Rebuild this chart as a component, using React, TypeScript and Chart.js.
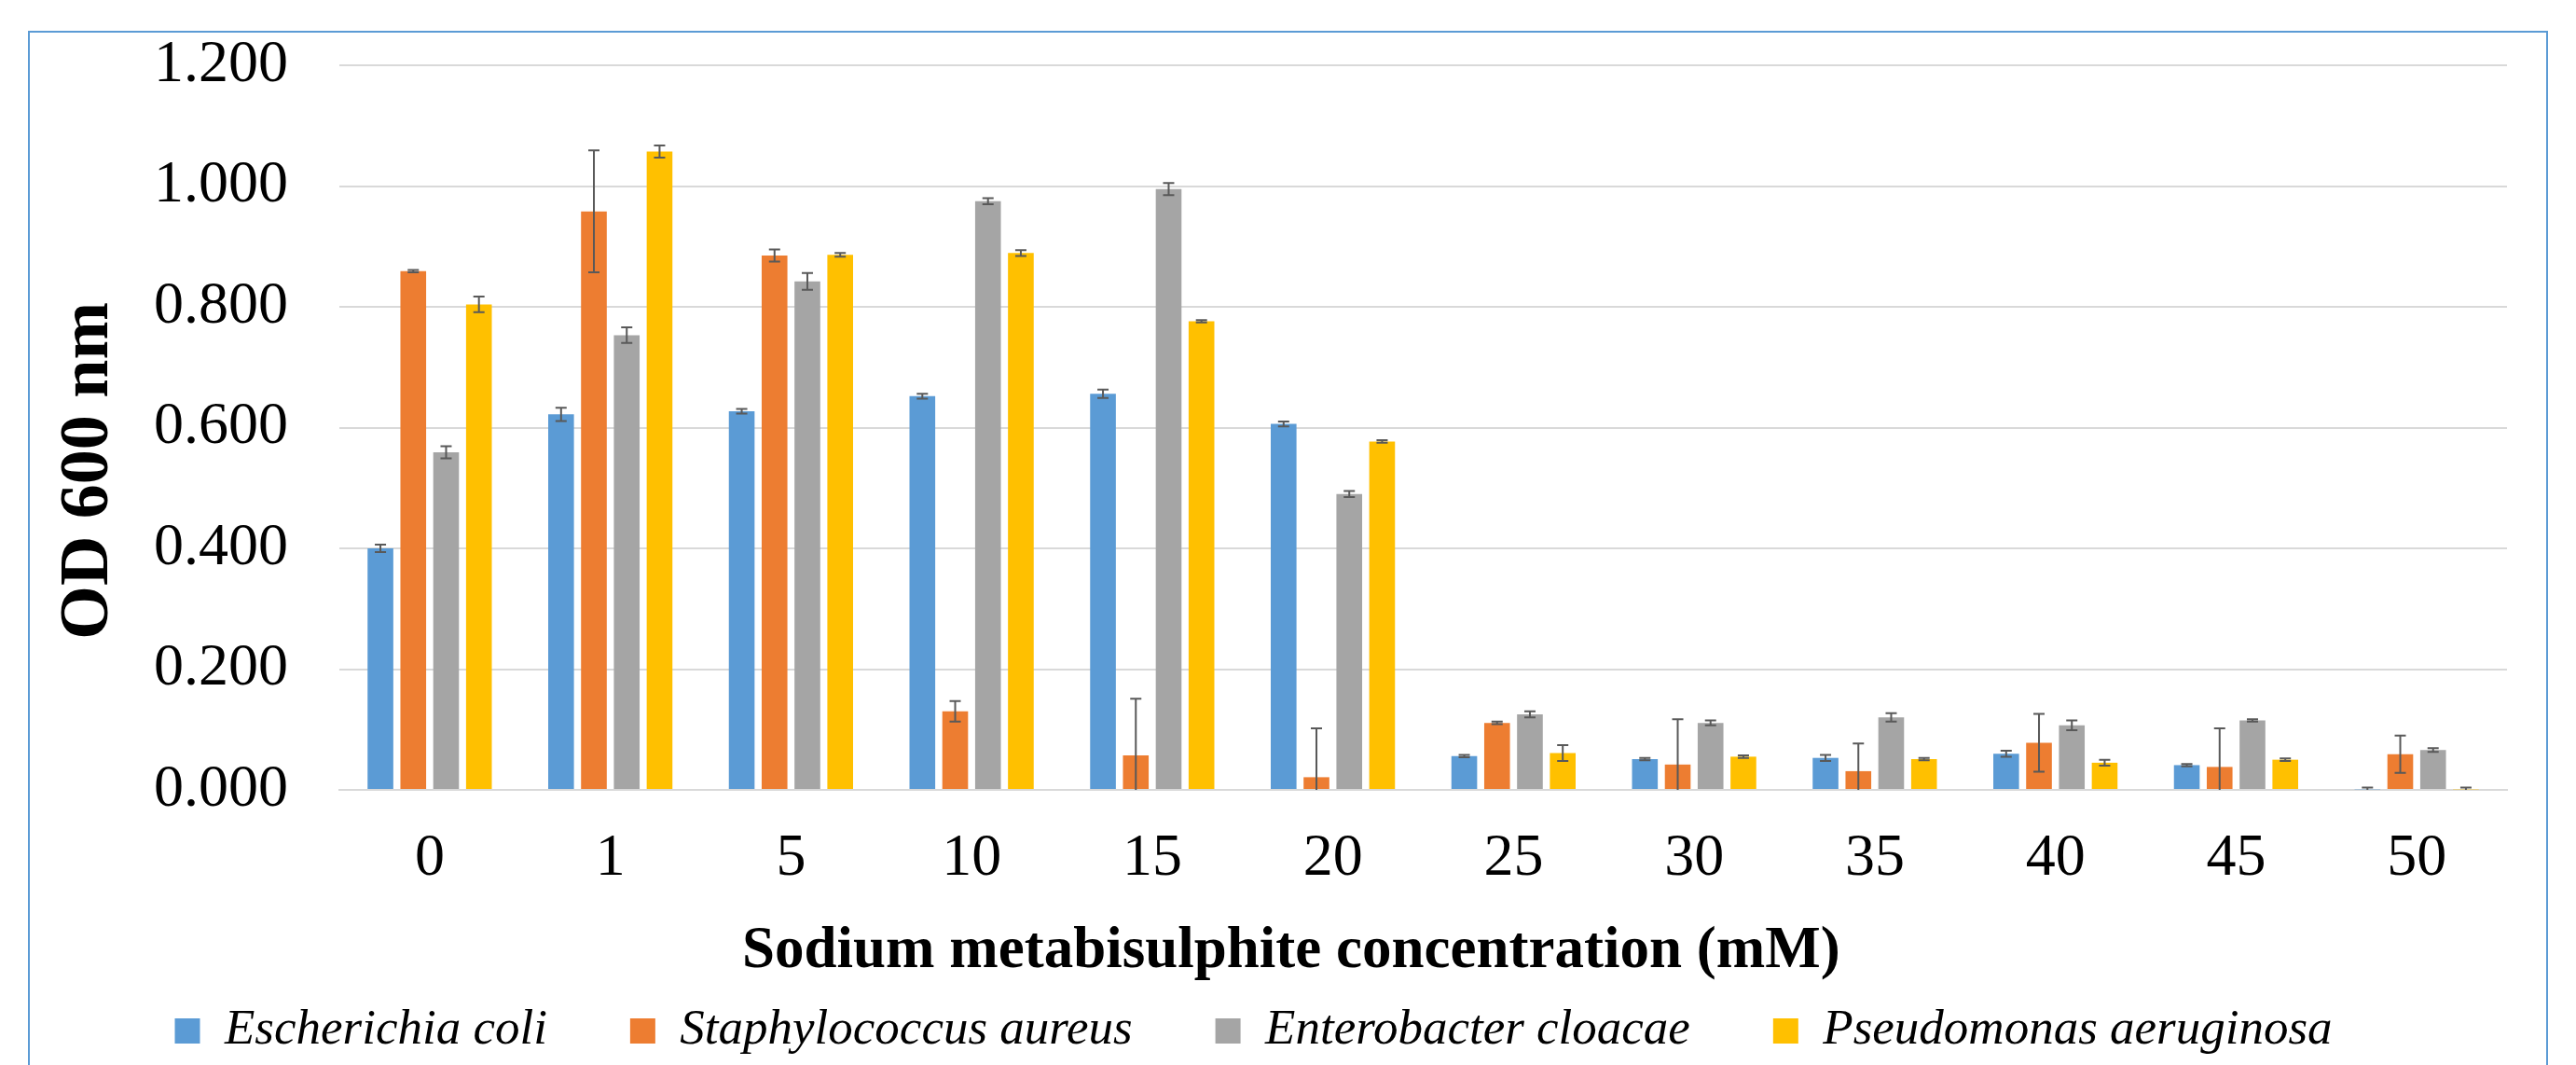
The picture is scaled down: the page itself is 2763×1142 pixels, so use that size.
import React, { useEffect, useRef } from 'react';
import { Chart, registerables } from 'chart.js';

Chart.register(...registerables);

const categories = ['0', '1', '5', '10', '15', '20', '25', '30', '35', '40', '45', '50'];

const seriesNames = ['Escherichia coli', 'Staphylococcus aureus', 'Enterobacter cloacae', 'Pseudomonas aeruginosa'];
const seriesColors = ['#5B9BD5', '#ED7D31', '#A5A5A5', '#FFC000'];

const ecoli = [0.400, 0.622, 0.627, 0.652, 0.656, 0.606, 0.056, 0.051, 0.053, 0.060, 0.041, 0.001];
const ecoliErr = [0.006, 0.011, 0.004, 0.004, 0.007, 0.004, 0.002, 0.002, 0.005, 0.005, 0.002, 0.003];

const saureus = [0.859, 0.958, 0.885, 0.130, 0.057, 0.021, 0.111, 0.042, 0.031, 0.078, 0.038, 0.059];
const saureusErr = [0.002, 0.101, 0.010, 0.017, 0.094, 0.081, 0.002, 0.075, 0.046, 0.048, 0.064, 0.031];

const ecloacae = [0.559, 0.753, 0.842, 0.975, 0.995, 0.490, 0.125, 0.111, 0.120, 0.107, 0.115, 0.066];
const ecloacaeErr = [0.010, 0.013, 0.014, 0.005, 0.010, 0.005, 0.005, 0.004, 0.007, 0.008, 0.002, 0.003];

const paeruginosa = [0.804, 1.057, 0.886, 0.889, 0.776, 0.577, 0.061, 0.055, 0.051, 0.045, 0.050, 0.001];
const paeruginosaErr = [0.013, 0.010, 0.003, 0.005, 0.002, 0.002, 0.013, 0.002, 0.002, 0.005, 0.002, 0.003];

const yTicksMin = 0;
const yTicksMax = 1.2;
const yTicksStep = 0.2;

const seriesValues = [ecoli, saureus, ecloacae, paeruginosa];
const seriesErrors = [ecoliErr, saureusErr, ecloacaeErr, paeruginosaErr];

const FONT = "'Liberation Serif', 'Times New Roman', Times, serif";

const errorBarPlugin = {
  id: 'errorBars',
  afterDatasetsDraw(chart: any) {
    const ctx = chart.ctx;
    const yScale = chart.scales.y;
    const area = chart.chartArea;
    ctx.save();
    ctx.beginPath();
    ctx.rect(area.left, area.top - 50, area.right - area.left, area.bottom - area.top + 50);
    ctx.clip();
    ctx.strokeStyle = '#595959';
    ctx.lineWidth = 2;
    chart.data.datasets.forEach((ds: any, i: number) => {
      const meta = chart.getDatasetMeta(i);
      const errs = seriesErrors[i];
      meta.data.forEach((bar: any, j: number) => {
        const v = ds.data[j];
        const e = errs[j];
        const top = yScale.getPixelForValue(v + e);
        const bot = yScale.getPixelForValue(v - e);
        const x = bar.x;
        ctx.beginPath();
        ctx.moveTo(x, top);
        ctx.lineTo(x, bot);
        ctx.moveTo(x - 6, top);
        ctx.lineTo(x + 6, top);
        ctx.moveTo(x - 6, bot);
        ctx.lineTo(x + 6, bot);
        ctx.stroke();
      });
    });
    ctx.restore();
  },
};

export default function App() {
  const canvasRef = useRef<HTMLCanvasElement | null>(null);

  useEffect(() => {
    if (!canvasRef.current) return;
    const chart = new Chart(canvasRef.current, {
      type: 'bar',
      data: {
        labels: categories,
        datasets: seriesNames.map((name, i) => ({
          label: name,
          data: seriesValues[i],
          backgroundColor: seriesColors[i],
          borderWidth: 0,
          categoryPercentage: 0.727,
          barPercentage: 0.784,
        })),
      },
      options: {
        responsive: false,
        animation: false,
        devicePixelRatio: 1,
        layout: { padding: { left: 0, right: 74, top: 70, bottom: 0 } },
        plugins: {
          legend: {
            position: 'bottom',
            labels: {
              boxWidth: 27,
              boxHeight: 27,
              padding: 89,
              color: '#000',
              font: { family: FONT, size: 53, style: 'italic' },
            },
          },
          tooltip: { enabled: false },
        },
        scales: {
          x: {
            grid: { display: false, drawTicks: false },
            border: { display: true, color: '#D9D9D9', width: 2 },
            ticks: {
              padding: 36,
              color: '#000',
              maxRotation: 0,
              autoSkip: false,
              font: { family: FONT, size: 64 },
            },
            title: {
              display: true,
              text: 'Sodium metabisulphite concentration (mM)' + '\u00A0'.repeat(18),
              color: '#000',
              font: { family: FONT, size: 63, weight: 'bold' },
              padding: { top: 0, bottom: -68.8 },
            },
            afterFit: (s: any) => {
              s.height = 143;
            },
          },
          y: {
            min: yTicksMin,
            max: yTicksMax,
            grid: { color: '#D9D9D9', lineWidth: 2, drawTicks: false },
            border: { display: false },
            ticks: {
              stepSize: yTicksStep,
              padding: 55,
              color: '#000',
              font: { family: FONT, size: 64 },
              callback: (v: any) => Number(v).toFixed(3),
            },
            title: {
              display: true,
              text: 'OD 600 nm' + '\u00A0'.repeat(5),
              color: '#000',
              font: { family: FONT, size: 74, weight: 'bold' },
              padding: { top: 51.6, bottom: 0 },
            },
            afterFit: (s: any) => {
              s.width = 364;
              s.paddingTop = 0;
              s.paddingBottom = 0;
            },
          },
        },
      },
      plugins: [errorBarPlugin],
    } as any);
    return () => chart.destroy();
  }, []);

  return (
    <div
      style={{
        position: 'fixed',
        left: 0,
        top: 0,
        width: 2763,
        height: 1142,
        overflow: 'hidden',
        background: '#fff',
      }}
    >
      <canvas
        ref={canvasRef}
        width={2763}
        height={1142}
        style={{ position: 'absolute', left: 0, top: 0, width: 2763, height: 1142 }}
      />
      <div
        style={{
          position: 'absolute',
          left: 30,
          top: 33,
          width: 2703,
          height: 1300,
          border: '2px solid #5B9BD5',
          boxSizing: 'border-box',
          pointerEvents: 'none',
        }}
      />
    </div>
  );
}
